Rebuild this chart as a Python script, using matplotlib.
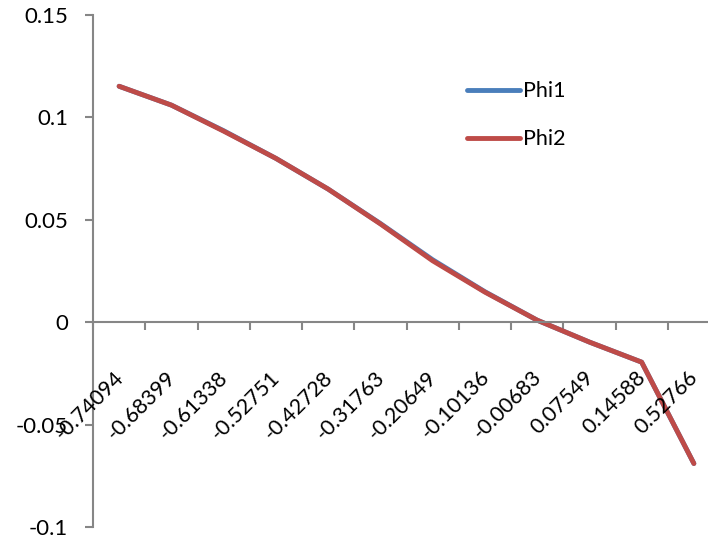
import matplotlib.pyplot as plt
import matplotlib.transforms as mtransforms
import numpy as np

plt.rcParams['font.family'] = ['Lato', 'DejaVu Sans']

labels = ['-0.74094', '-0.68399', '-0.61338', '-0.52751', '-0.42728', '-0.31763',
          '-0.20649', '-0.10136', '-0.00683', '0.07549', '0.14588', '0.52766']
phi1 = [0.1152, 0.1060, 0.0935, 0.0800, 0.0650, 0.0482,
        0.0305, 0.0149, 0.0010, -0.0097, -0.0195, -0.0690]
phi2 = [0.1152, 0.1060, 0.0933, 0.0800, 0.0650, 0.0480,
        0.0300, 0.0147, 0.0010, -0.0097, -0.0195, -0.0690]

fig = plt.figure(figsize=(7.08, 5.36), dpi=100)
ax = fig.add_axes([93 / 708, 9 / 536, 627 / 708, 512 / 536])

x = np.arange(len(labels))
ax.plot(x, phi1, color='#4A7EBB', lw=3.5, solid_capstyle='round', label='Phi1')
ax.plot(x, phi2, color='#BE4B48', lw=3.5, solid_capstyle='round', label='Phi2')

ax.set_xlim(-0.5, len(labels) - 0.5)
ax.set_ylim(-0.1, 0.15)
ax.set_yticks([-0.1, -0.05, 0, 0.05, 0.1, 0.15])
ax.set_yticklabels(['-0.1', '-0.05', '0', '0.05', '0.1', '0.15'], fontsize=16)

# category axis sits on y = 0, ticks between categories
for s in ['top', 'right']:
    ax.spines[s].set_visible(False)
ax.spines['bottom'].set_position(('data', 0))
ax.spines['bottom'].set_color('#868686')
ax.spines['left'].set_color('#868686')
ax.spines['bottom'].set_linewidth(1.5)
ax.spines['left'].set_linewidth(1.5)

ax.set_xticks(np.arange(-0.5, len(labels)))
ax.set_xticklabels([])
ax.tick_params(axis='x', length=6, width=1.5, color='#868686', direction='out')
ax.tick_params(axis='y', length=6, width=1.5, color='#868686', pad=12)

# rotated category labels hanging under the zero line
shift = mtransforms.ScaledTranslation(-6 / 100, -45 / 100, fig.dpi_scale_trans)
for i, lab in enumerate(labels):
    ax.text(x[i], 0, lab, rotation=45, ha='right', va='top',
            rotation_mode='anchor', fontsize=15.5,
            transform=ax.transData + shift)

ax.legend(loc='upper left', bbox_to_anchor=(448 / 708, 1 - 62 / 536),
          bbox_transform=fig.transFigure, frameon=False, fontsize=15.5,
          handlelength=2.45, handletextpad=0.15, labelspacing=1.3)

fig.savefig('out.png', dpi=100)
